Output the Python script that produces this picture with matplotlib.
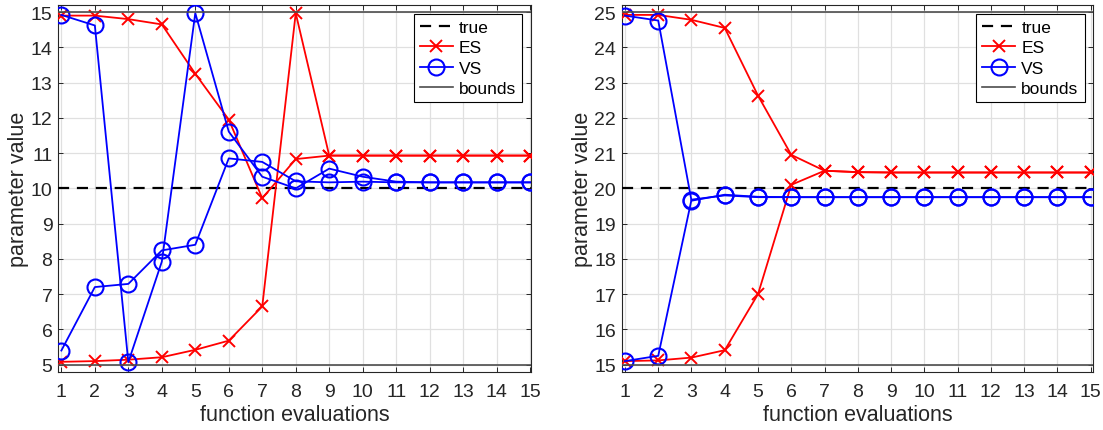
import matplotlib
matplotlib.use("Agg")
import matplotlib.pyplot as plt
import numpy as np

plt.rcParams["font.family"] = ["Liberation Sans", "DejaVu Sans"]

evals = np.arange(1, 16)

# left panel: true value 10, bounds 5..15
true_left = 10
bounds_left = [5, 15]
es_hi_left = [14.9, 14.9, 14.8, 14.65, 13.25, 11.95, 9.72, 10.83, 10.93,
              10.93, 10.93, 10.93, 10.93, 10.93, 10.93]
es_lo_left = [5.08, 5.1, 5.14, 5.21, 5.42, 5.68, 6.65, 14.97, 10.93,
              10.93, 10.93, 10.93, 10.93, 10.93, 10.93]
vs_hi_left = [14.92, 14.62, 5.07, 7.92, 14.97, 11.61, 10.33, 10.0, 10.56,
              10.33, 10.19, 10.17, 10.17, 10.17, 10.17]
vs_lo_left = [5.4, 7.2, 7.29, 8.24, 8.4, 10.85, 10.75, 10.2, 10.17,
              10.19, 10.17, 10.17, 10.17, 10.17, 10.17]

# right panel: true value 20, bounds 15..25
true_right = 20
bounds_right = [15, 25]
es_hi_right = [24.92, 24.92, 24.78, 24.55, 22.63, 20.95, 20.5, 20.46, 20.45,
               20.45, 20.45, 20.45, 20.45, 20.45, 20.45]
es_lo_right = [15.1, 15.12, 15.2, 15.41, 17.0, 20.1, 20.5, 20.46, 20.45,
               20.45, 20.45, 20.45, 20.45, 20.45, 20.45]
vs_hi_right = [24.9, 24.76, 19.65, 19.82, 19.76, 19.75, 19.75, 19.75, 19.75,
               19.75, 19.75, 19.75, 19.75, 19.75, 19.75]
vs_lo_right = [15.1, 15.25, 19.68, 19.8, 19.75, 19.75, 19.75, 19.75, 19.75,
               19.75, 19.75, 19.75, 19.75, 19.75, 19.75]

AX_COLOR = "0.15"


def draw_panel(ax, true_val, bounds, es_runs, vs_runs, xlim):
    h_true = ax.axhline(true_val, color="black", linestyle=(0, (5, 3.5)),
                        linewidth=1.6, zorder=3, label="true")
    h_es = None
    for run in es_runs:
        line, = ax.plot(evals, run, color="red", marker="x", markersize=9,
                        markeredgewidth=1.4, linewidth=1.3, zorder=4)
        h_es = h_es or line
    h_vs = None
    for run in vs_runs:
        line, = ax.plot(evals, run, color="blue", marker="o", markersize=11.5,
                        markerfacecolor="none", markeredgewidth=1.5,
                        linewidth=1.3, zorder=5)
        h_vs = h_vs or line
    h_bounds = None
    for b in bounds:
        line = ax.axhline(b, color="0.3", linewidth=1.2, zorder=6)
        h_bounds = h_bounds or line

    ax.set_xlim(*xlim)
    ax.set_ylim(bounds[0] - 0.2, bounds[1] + 0.2)
    ax.set_xticks(evals)
    ax.set_yticks(np.arange(bounds[0], bounds[1] + 1))
    ax.grid(True, color="0.88", linewidth=0.9, zorder=0)
    ax.set_axisbelow(True)
    ax.tick_params(direction="in", top=True, right=True, length=3.8,
                   width=0.7, colors=AX_COLOR, labelsize=14)
    ax.tick_params(axis="x", pad=8)
    ax.tick_params(axis="y", pad=4)
    for spine in ax.spines.values():
        spine.set_color(AX_COLOR)
        spine.set_linewidth(0.8)
    ax.set_xlabel("function evaluations", fontsize=15.5, color=AX_COLOR,
                  labelpad=3)
    ax.set_ylabel("parameter value", fontsize=15.5, color=AX_COLOR,
                  labelpad=1)

    leg = ax.legend([h_true, h_es, h_vs, h_bounds],
                    ["true", "ES", "VS", "bounds"], loc="upper right",
                    fontsize=12.5, fancybox=False, framealpha=1,
                    edgecolor="black", handlelength=1.9, handletextpad=0.35,
                    labelspacing=0.3, borderpad=0.35, borderaxespad=0.5,
                    numpoints=1)
    leg.get_frame().set_linewidth(0.8)
    leg.set_zorder(10)


fig = plt.figure(figsize=(11.03, 4.31), dpi=100)
ax_left = fig.add_axes([0.0526, 0.1353, 0.4286, 0.8507])
ax_right = fig.add_axes([0.5636, 0.1353, 0.4276, 0.8507])

draw_panel(ax_left, true_left, bounds_left, [es_hi_left, es_lo_left],
           [vs_hi_left, vs_lo_left], (0.9, 15.02))
draw_panel(ax_right, true_right, bounds_right, [es_hi_right, es_lo_right],
           [vs_hi_right, vs_lo_right], (0.9, 15.08))

fig.savefig("out.png", dpi=100)
plt.close(fig)
